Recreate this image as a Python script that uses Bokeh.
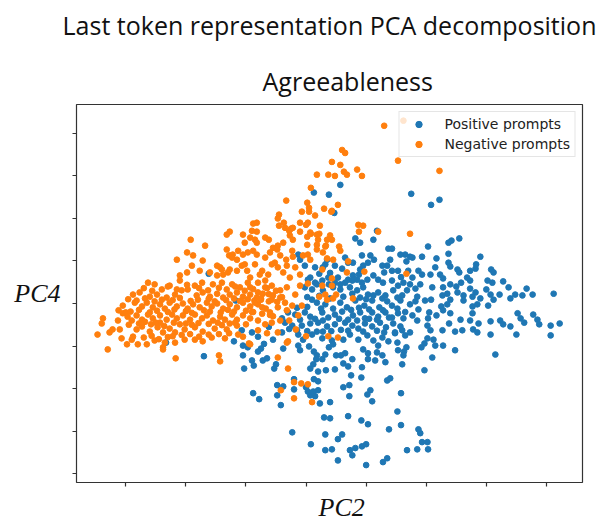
from bokeh.plotting import figure
from bokeh.models import Range1d, FixedTicker, Title
from bokeh.embed import file_html
from bokeh.resources import INLINE

# ---------------- data (PCA scores) ----------------
# Positive prompts (blue)
pos_pc2 = [
    # upper scattered
    0.13, 0.38, 0.47, 0.57, 1.75, 2.08, 2.22, 0.82, 0.90, 1.12, 1.18, 1.37, 1.43, 2.37, 2.42, 2.55, 2.03, 2.37, 2.90, 1.93, 2.17, 1.77, 1.65,
    # among the negative cloud
    -1.62, -2.33, -1.70, -1.20, -1.07, -1.05, -1.17, -0.13, -0.10, -0.02, 0.07, 0.18, 0.35, 0.37, 0.38, 0.28, -0.90, -0.97, -0.80, -0.62, -0.55, -0.70,
    # core
    0.93, 1.07, 1.13, 1.57, 1.73, 1.03, 0.60, 0.70, 0.78, 0.95, 1.35, 1.40, 1.53, 1.70, 1.87, 1.93, 2.15, 2.52, 2.68, 2.82, 3.08, 3.12, 0.15, 0.32, 0.65, 0.90, 1.27, 1.43, 0.48, 0.53, 0.70, 0.78,
    0.03, 0.15, 0.27, 0.48, 0.57, 0.65, 0.77, 0.85, 0.93, 1.02, 1.12, 1.20, 1.28, 1.43, 1.53,
    0.28, 0.45, 0.57, 0.73, 0.85, 0.95, 1.03, 1.12, 1.20, 1.32, 1.45, 1.60, 1.68, -0.02, 0.10, 0.77, 0.90,
    0.10, 0.18, 0.32, 0.57, 0.68, 0.82, 0.97, 1.10, 1.22, 1.35, 1.43, 1.57, 1.73,
    -0.30, -0.18, -0.02, 0.07, 0.27, 0.37, 0.48, 0.60, 0.78, 0.90, 0.98, 1.10, 1.20, 1.32, 1.43, 1.53,
    -0.35, -0.23, -0.07, 0.07, 0.20, 0.35, 0.48, 0.65, 0.77, 0.87, 0.98, 1.10, 1.23, 1.33, 1.45, 1.57,
    -0.40, -0.13, -0.05, 0.10, 0.18, 0.27, 0.43, 0.62, 0.73, 0.87, 1.02, 1.12, 1.27, 1.37, 1.52,
    0.02, 0.22, 0.40, 0.62, 1.00, 1.27, 1.52, 1.82,
    -0.15, 0.02, 0.25, 0.45, 0.75, 0.88, 1.05, 1.28, 1.52, 1.65,
    -0.40, -0.10, 0.15, 0.28, 0.55, 0.70, 0.85, 1.05, 1.18, 1.38, 1.62,
    -0.28, -0.15, 0.02, 0.28, 0.42, 0.58, 0.70, 0.95, 1.18, 1.30, 1.48,
    0.22, 0.40, 0.88, 1.30, 1.58,
    # right wing
    1.67, 2.37, 2.40, 2.83, 2.73, 2.55, 2.23, 2.28, 2.07, 1.77, 1.62, 2.73, 3.02, 3.10, 3.28, 2.40, 2.50, 2.58, 2.52, 1.90,
    1.73, 1.82, 2.10, 2.28, 2.35, 2.73, 2.82, 2.77, 3.00, 3.07, 3.37, 3.22, 3.67, 3.60, 3.77, 4.12, 3.40, 1.85, 1.98, 2.08,
    2.27, 2.40, 2.35, 2.25, 2.28, 2.40, 2.62, 2.77, 2.85, 3.03, 2.77, 2.17, 2.05, 2.03, 1.87, 3.52, 3.57, 3.63, 3.78, 3.85,
    3.88, 3.23, 3.28, 3.07, 2.87, 2.57, 2.73, 2.38, 2.78, 2.85, 3.07, 3.40, 3.50, 4.07, 4.22, 4.07, 2.48, 2.60, 2.27, 2.02,
    2.07, 1.85, 1.77, 2.02, 1.97, 2.12, 2.15, 2.28, 2.48, 1.92, 2.10, 1.67, 1.63, 3.15, 2.62, 2.90, 3.12, 3.48, 1.65, 1.48,
    1.73, 1.60,
    # lower tail
    -1.03, -1.05, -0.90, -0.87, -0.80, -0.75, -0.72, -0.65, -0.88, -0.78, -0.53, -0.50, -0.48, -0.38, -0.48, -0.42, -0.38, -0.23, -0.20, -0.20,
    -0.13, -0.10, 0.00, 0.03, 0.07, 0.12, 0.15, 0.20, 0.05, 0.13, 0.18, 0.17, 0.12, 0.07, 0.13, 0.20, 0.23, 0.20, 0.27, 0.32,
    0.38, 0.45, 0.33, 0.48, 0.40, 0.30, 0.40, 0.32, 0.08, 0.32, 0.43, 0.53, 0.60, 0.53, 0.50, 0.58, 0.65, 0.62, 0.70, 0.77,
    0.62, 0.72, 0.72, 0.75, 0.70, 0.73, 0.77, 0.82, 0.92, 0.93, 0.92, 1.03, 0.93, 1.00, 1.00, 1.02, 1.07, 1.10, 0.95, 1.03,
    1.03, 1.15, 1.18, 1.20, 1.35, 1.40, 1.28, 1.35, 1.38, 1.52, 1.58, 1.58, 1.60, 1.62, 1.53, 1.68, 1.87, 1.90, 1.85, 1.93,
    2.02, 2.03, 1.97, 1.27, 1.32,
]
pos_pc4 = [
    2.61, 2.56, 2.13, 2.79, 2.58, 2.32, 2.44, 1.53, 1.43, 1.50, 1.71, 1.29, 1.29, 1.43, 1.48, 1.53, 1.34, 1.17, 1.10, 1.10, 1.06, 1.08, 1.15,
    0.70, -0.92, -1.24, -0.89, -0.63, -0.99, 0.07, 1.15, 1.03, 0.89, 0.61, 0.45, 1.03, 0.61, 0.45, 0.85, -0.68, -1.03, -0.78, -0.55, -0.85, -0.95,
    1.13, 1.13, 1.03, 1.15, 1.10, 0.96, 0.82, 0.96, 0.96, 0.89, 0.89, 1.03, 0.77, 0.77, 0.77, 0.68, 0.85, 0.80, 0.61, 0.82, 0.80, 0.73, 0.85, 0.92, 1.08, 0.80, 0.89, 0.77, 0.89, 0.61, 0.56, 0.66,
    0.56, 0.49, 0.54, 0.49, 0.45, 0.49, 0.54, 0.56, 0.49, 0.56, 0.66, 0.56, 0.49, 0.54, 0.42,
    0.31, 0.38, 0.33, 0.38, 0.31, 0.38, 0.21, 0.19, 0.26, 0.19, 0.31, 0.19, 0.31, 0.38, 0.33, 0.23, 0.14,
    0.09, 0.02, -0.02, 0.02, -0.09, 0.07, -0.05, 0.07, -0.09, 0.05, -0.05, 0.07, -0.02,
    -0.21, -0.26, -0.21, -0.31, -0.21, -0.33, -0.26, -0.19, -0.28, -0.21, -0.35, -0.21, -0.31, -0.21, -0.33, -0.23,
    -0.45, -0.52, -0.52, -0.47, -0.45, -0.54, -0.49, -0.45, -0.52, -0.59, -0.47, -0.54, -0.45, -0.56, -0.47, -0.54,
    -0.68, -0.73, -0.85, -0.73, -0.66, -0.82, -0.87, -0.85, -0.73, -0.85, -0.75, -0.87, -0.80, -0.89, -0.92,
    0.15, 0.18, 0.12, 0.16, 0.10, 0.12, 0.14, 0.05,
    -0.10, -0.08, -0.12, -0.12, -0.15, -0.10, -0.14, -0.16, -0.12, -0.20,
    -0.35, -0.38, -0.36, -0.40, -0.36, -0.38, -0.40, -0.36, -0.38, -0.33, -0.35,
    -0.60, -0.63, -0.65, -0.66, -0.65, -0.62, -0.64, -0.66, -0.64, -0.68, -0.70,
    0.70, 0.72, 0.68, 0.73, 0.62,
    0.99, 0.96, 0.87, 0.92, 0.77, 0.73, 0.68, 0.59, 0.68, 0.61, 0.49, 0.54, 0.54, 0.49, 0.52, 0.45, 0.40, 0.49, 0.26, 0.45,
    0.45, 0.35, 0.38, 0.38, 0.23, 0.35, 0.26, 0.16, 0.33, 0.21, 0.38, 0.21, 0.35, 0.19, 0.21, 0.23, 0.12, 0.16, 0.07, 0.09,
    0.19, 0.09, -0.02, -0.07, -0.16, -0.23, 0.07, -0.07, -0.02, -0.05, -0.23, -0.28, -0.21, -0.35, -0.14, -0.23, -0.35, -0.45, -0.26, -0.38,
    -0.49, -0.40, -0.49, -0.42, -0.47, -0.38, -0.40, -0.47, -0.61, -0.68, -0.73, -0.54, -0.73, -0.52, -0.47, -0.75, -0.66, -0.63, -0.63, -0.52,
    -0.63, -0.40, -0.28, -0.82, -0.94, -0.85, -0.99, -0.99, -1.10, -1.03, -1.27, -1.03, -1.13, -1.20, 0.19, 0.12, 0.09, 0.21, -0.75, -0.68,
    -0.68, -0.63,
    -1.53, -1.22, -1.34, -1.46, -1.13, -1.06, -1.34, -1.29, -2.11, -2.25, -1.53, -1.43, -1.92, -1.95, -2.16, -2.39, -1.06, -3.03, -1.78, -2.02,
    -0.99, -1.10, -1.97, -2.07, -2.16, -2.07, -2.18, -2.04, -1.01, -1.13, -1.22, -1.31, -1.43, -1.53, -1.78, -1.83, -2.35, -1.60, -1.31, -1.20,
    -1.03, -0.96, -1.57, -1.55, -2.32, -2.68, -2.70, -3.08, -3.31, -3.45, -3.43, -3.19, -3.08, -3.69, -1.22, -1.22, -1.17, -1.41, -1.48, -1.31,
    -1.97, -1.92, -2.18, -1.69, -2.65, -3.45, -3.57, -3.40, -1.74, -1.50, -2.75, -2.84, -3.36, -3.31, -3.80, -2.14, -2.04, -2.30, -1.08, -1.17,
    -1.31, -1.34, -1.15, -0.99, -1.81, -1.76, -3.73, -3.64, -2.96, -2.54, -2.86, -2.11, -1.43, -1.22, -1.10, -3.45, -2.96, -3.05, -3.43, -3.26,
    -3.26, -3.43, -1.57, -1.22, -1.38,
]

# Negative prompts (orange)
neg_pc2 = [
    # left tail
    -3.47, -3.38, -3.40, -3.30, -3.22, -3.10, -3.05, -3.00, -3.07, -2.98, -2.90, -3.13, -3.27,
    # main body
    -2.63, -2.52, -2.40, -1.85, -1.73, -1.55, -1.40, -1.23, -1.10, -0.97, -2.10, -2.27,
    -2.88, -2.77, -2.60, -2.48, -2.32, -2.18, -2.07, -1.97, -1.82, -1.72, -1.60, -1.48, -1.38, -1.27, -1.15, -1.05, -0.93, -0.82, -0.72, -0.55, -0.43,
    -3.05, -2.85, -2.73, -2.65, -2.55, -2.43, -2.35, -2.27, -2.15, -2.05, -1.97, -1.88, -1.77, -1.65, -1.57, -1.48, -1.38, -1.27, -1.15, -1.05, -0.93, -0.80, -0.67,
    -2.97, -2.90, -2.82, -2.73, -2.63, -2.55, -2.43, -2.32, -2.23, -2.15, -2.05, -1.93, -1.85, -1.73, -1.65, -1.55, -1.43, -1.35, -1.23, -1.15, -1.05, -0.93,
    -2.82, -2.73, -2.60, -2.47, -2.38, -2.27, -2.18, -2.02, -1.85, -1.72, -1.52, -1.32, -1.15, -1.13, -2.43, -2.10,
    -2.80, -2.65, -2.52, -2.38, -2.35, -2.02, -1.85, -1.72, -1.57, -1.35, -0.93, -2.18,
    -2.17, -1.45, -1.43, -2.38,
    -2.70, -2.56, -2.30, -2.15, -1.98, -1.78, -1.63, -1.45, -1.32, -1.18, -1.02, -0.88, -0.65,
    -2.96, -2.82, -2.68, -2.52, -2.40, -2.22, -2.10, -1.92, -1.80, -1.62, -1.52, -1.33, -1.20, -1.10, -0.97, -0.86, -0.75, -0.62, -0.48,
    -3.12, -2.92, -2.78, -2.60, -2.48, -2.30, -2.19, -2.00, -1.90, -1.70, -1.60, -1.42, -1.30, -1.20, -1.00, -0.88, -0.73, -0.60,
    -2.95, -2.78, -2.68, -2.58, -2.50, -2.36, -2.20, -2.00, -1.90, -1.79, -1.62, -1.47, -1.40, -1.27, -1.18, -1.00,
    -2.88, -2.70, -2.57, -2.45, -2.30, -2.22, -2.07, -1.93, -1.78, -1.62, -1.45, -1.28, -1.05,
    # upward plume
    0.43, 0.18, 0.37, 0.08, -0.33, 0.02, 0.05, 0.05, -0.07, 0.30, 0.42, 0.15, -0.45, -0.47, -0.10, 0.03, 0.00, 0.23, -0.37, -0.45,
    -0.35, -0.25, -0.28, -0.22, -0.88, -0.82, -0.82, -1.27, -1.32, -1.05, 0.08, 0.22, 0.40, -0.68, -0.62, -0.90, -1.02, -0.93, -0.85, -0.55,
    -0.47, -0.48, -0.38, -0.27, -0.22, -0.10, 0.02, 0.07, 0.18, 0.20, 0.35, 0.33, 0.02, 0.18, -1.92, -1.68,
    -2.15, -1.98, -1.88, -1.90, -1.72, -1.48, -1.43, -1.32, -1.28, -1.22, -1.15, -1.13, -1.05, -0.97, -0.88, -0.82, -0.82, -0.68, -0.60, -0.52,
    -0.43, -0.47, -0.33, -0.32, -0.23, -0.22, -0.05, 0.03, 0.07, 0.18, 0.28, -1.60, -1.48, -1.38, -1.27, -1.15, -2.10, -1.98, -1.40, -1.30,
    -1.23, -1.07, -0.98, -0.85, -0.73, -0.63, -0.38, -0.27, -0.93, -0.80, -0.68, -0.57, -1.77, -1.02, -0.77, -0.18, -0.10, -0.57,
    # transition zone
    -0.93, -0.80, -0.68, -0.57, -0.43, -0.32, -0.18, -0.10, -0.85, -0.73, -0.60, -0.47, -0.35, -0.23, -0.80, -0.68, -0.57, -0.43, -0.32, -0.13,
    -0.07, -0.47, -0.30, -0.17, -0.80, -0.95, 0.00, 0.03, 0.27, 0.22, 0.35, 0.70, 0.97, 0.43, 0.50, 0.78, 0.37, 0.53, -0.47,
    -0.62, -0.50, -0.75, -0.55, -0.90, -0.65, -0.40, -0.28,
    # scattered
    1.30, 1.62, 1.53, 2.22, 0.60, 0.65, 0.57, 0.85, 0.63, 0.68, 0.48, 0.93, 0.53, 0.43, 0.87, 0.95, 0.88, 1.20, 1.73, 0.43,
    0.32, 0.55, 0.57, 0.35, 0.45, 0.27, 0.68, 1.67, 0.43, 0.32, 0.45, -0.30, -0.32, -0.20, -0.08, 0.03, -0.42, -0.20, 0.10,
]
neg_pc4 = [
    -0.73, -0.35, -0.47, -1.08, -0.61, -0.61, -0.23, -0.21, -0.82, -0.96, -0.85, -0.40, -0.68,
    0.49, 0.45, 0.33, 0.42, 0.49, 0.45, 0.49, 0.45, 0.38, 0.49, 0.54, 0.42,
    0.21, 0.26, 0.16, 0.21, 0.14, 0.21, 0.31, 0.33, 0.19, 0.26, 0.16, 0.23, 0.14, 0.21, 0.26, 0.16, 0.21, 0.14, 0.23, 0.19, 0.14,
    -0.05, 0.02, -0.07, 0.02, -0.09, -0.02, -0.12, 0.02, -0.07, 0.00, -0.12, -0.02, -0.09, 0.02, -0.07, 0.00, -0.12, -0.02, -0.09, 0.02, -0.07, -0.02, -0.12,
    -0.31, -0.40, -0.28, -0.38, -0.26, -0.35, -0.28, -0.38, -0.26, -0.35, -0.28, -0.38, -0.26, -0.35, -0.28, -0.40, -0.31, -0.38, -0.26, -0.38, -0.28, -0.35,
    -0.61, -0.54, -0.66, -0.56, -0.68, -0.59, -0.68, -0.61, -0.56, -0.66, -0.59, -0.61, -0.52, -0.73, -0.45, -0.49,
    -0.96, -0.96, -0.87, -1.03, -0.92, -0.85, -0.85, -0.89, -0.80, -0.82, -0.96, -0.92,
    -1.29, -1.22, -1.36, -1.08,
    0.36, 0.30, 0.40, 0.33, 0.44, 0.36, 0.31, 0.37, 0.33, 0.40, 0.30, 0.34, 0.36,
    0.10, 0.07, 0.12, 0.05, 0.09, 0.08, 0.13, 0.06, 0.09, 0.11, 0.05, 0.08, 0.12, 0.06, 0.10, 0.07, 0.09, 0.05, 0.04,
    -0.16, -0.19, -0.15, -0.21, -0.17, -0.20, -0.14, -0.18, -0.22, -0.16, -0.19, -0.21, -0.15, -0.19, -0.17, -0.20, -0.24, -0.27,
    -0.50, -0.47, -0.43, -0.49, -0.45, -0.53, -0.45, -0.47, -0.50, -0.46, -0.48, -0.45, -0.51, -0.47, -0.45, -0.49,
    -0.78, -0.80, -0.76, -0.84, -0.79, -0.77, -0.74, -0.72, -0.78, -0.73, -0.72, -0.70, -0.78,
    3.33, 3.03, 3.03, 2.72, 2.42, 2.37, 2.25, 2.16, 2.16, 2.23, 2.16, 2.07, 2.09, 2.00, 1.90, 1.90, 1.85, 1.83, 1.90, 1.83,
    1.78, 1.76, 1.71, 1.78, 1.88, 1.90, 1.69, 1.69, 1.62, 1.62, 1.64, 1.64, 1.60, 1.55, 1.50, 1.71, 1.43, 1.55, 1.50, 1.31,
    1.36, 1.27, 1.43, 1.60, 1.50, 1.69, 1.57, 1.67, 1.62, 1.50, 1.50, 1.36, 1.38, 1.38, 1.50, 1.36,
    1.03, 1.20, 1.13, 0.89, 1.01, 0.89, 0.85, 1.27, 1.13, 1.15, 1.03, 1.24, 1.15, 1.20, 1.24, 1.15, 1.43, 1.08, 1.20, 0.96,
    1.13, 0.85, 1.03, 0.89, 1.24, 1.10, 1.13, 1.15, 1.03, 1.27, 1.20, 0.73, 0.66, 0.68, 0.80, 0.77, 0.66, 0.73, 0.80, 0.73,
    1.08, 0.89, 0.77, 0.92, 0.77, 0.68, 0.73, 0.61, 0.61, 0.49, 0.54, 0.42, 0.77, 0.92, 0.68, 0.85, 0.68, 0.92,
    0.38, 0.26, 0.38, 0.09, 0.31, 0.38, 0.21, 0.42, 0.02, -0.09, -0.21, -0.09, 0.02, -0.05, -0.40, -0.49, -0.45, -0.40, -0.16, -0.28,
    -0.05, -0.68, -0.89, -0.61, -0.63, -0.94, -0.77, 0.47, 0.42, 0.16, 0.09, 0.99, 0.75, 0.59, 0.21, 0.12, -0.77, -0.80, -1.27,
    0.22, 0.30, 0.12, -0.30, -0.20, -0.70, 0.15, -0.40,
    4.18, 4.30, 3.36, 3.12, 3.61, 3.54, 3.26, 3.15, 3.10, 3.03, 3.00, 3.00, 2.32, 2.18, 1.85, 1.83, 1.69, 1.69, 1.64, 1.50,
    1.34, 1.34, 1.24, 1.06, 1.03, 0.80, 0.73, 0.70, 0.42, 0.21, 0.12, -1.53, -0.92, -1.85, -1.88, -1.90, -2.04, -2.23, -2.32,
]

series_labels = ["Positive prompts", "Negative prompts"]
series_colors = ["#1f77b4", "#ff7f0e"]
x_ticks = [-3, -2, -1, 0, 1, 2, 3, 4]
y_ticks = [-4, -3, -2, -1, 0, 1, 2, 3, 4]
main_title = "Last token representation PCA decomposition"
sub_title = "Agreeableness"

assert len(pos_pc2) == len(pos_pc4), (len(pos_pc2), len(pos_pc4))
assert len(neg_pc2) == len(neg_pc4), (len(neg_pc2), len(neg_pc4))

# ---------------- figure ----------------
p = figure(
    frame_width=506, frame_height=378,
    x_range=Range1d(-3.82, 4.60), y_range=Range1d(-4.21, 4.68),
    min_border_left=76, min_border_right=20, min_border_top=102, min_border_bottom=43,
    output_backend="svg", toolbar_location=None,
    background_fill_color="white", border_fill_color="white",
)
p.xgrid.visible = False
p.ygrid.visible = False
p.outline_line_color = "#333333"
p.outline_line_width = 1.2
p.outline_line_alpha = 1.0

p.xaxis.ticker = FixedTicker(ticks=x_ticks)
p.yaxis.ticker = FixedTicker(ticks=y_ticks)
p.xaxis.major_label_overrides = {t: "" for t in x_ticks}
p.yaxis.major_label_overrides = {t: "" for t in y_ticks}
for ax in (p.xaxis, p.yaxis):
    ax.axis_line_color = None
    ax.major_tick_line_color = "#333333"
    ax.major_tick_line_width = 1.2
    ax.major_tick_out = 4
    ax.major_tick_in = 0
    ax.minor_tick_line_color = None
    ax.major_label_standoff = 0
    ax.major_label_text_font_size = "1px"

p.yaxis.axis_label = "PC4"
p.yaxis.axis_label_orientation = "horizontal"
p.yaxis.axis_label_standoff = 12
p.yaxis.axis_label_text_font = "Liberation Serif"
p.yaxis.axis_label_text_font_style = "italic"
p.yaxis.axis_label_text_font_size = "26px"
p.yaxis.axis_label_text_color = "#111111"

p.scatter(pos_pc2, pos_pc4, size=5.7, line_width=1,
          fill_color=series_colors[0], line_color=series_colors[0],
          legend_label=series_labels[0])
p.scatter(neg_pc2, neg_pc4, size=5.7, line_width=1,
          fill_color=series_colors[1], line_color=series_colors[1],
          legend_label=series_labels[1])

lg = p.legend[0]
lg.location = "top_right"
lg.margin = 7
lg.padding = 4
lg.spacing = 4
lg.label_height = 16
lg.glyph_height = 16
lg.glyph_width = 30
lg.label_standoff = 11
lg.label_text_font = "DejaVu Sans"
lg.label_text_font_size = "14px"
lg.label_text_color = "#222222"
lg.border_line_color = "#cccccc"
lg.border_line_width = 1
lg.background_fill_alpha = 0.8

# x-axis label as a title below the axis (shifted right as in the reference)
p.add_layout(Title(text="PC2", align="left", offset=242,
                   text_font="Liberation Serif", text_font_size="26px", text_font_style="italic",
                   text_color="#111111", standoff=9), "below")

# main title and subtitle in one two-line title block above the frame;
# the subtitle line is indented with em spaces to sit where the reference shows it
indent = "\u2003" * 8
p.add_layout(Title(text=main_title + "\n" + indent + sub_title, align="center",
                   text_font="Open Sans", text_font_size="25px", text_font_style="normal",
                   text_color="#111111", text_line_height=1.66, standoff=12), "above")

open("out.html", "w").write(file_html(p, INLINE))
